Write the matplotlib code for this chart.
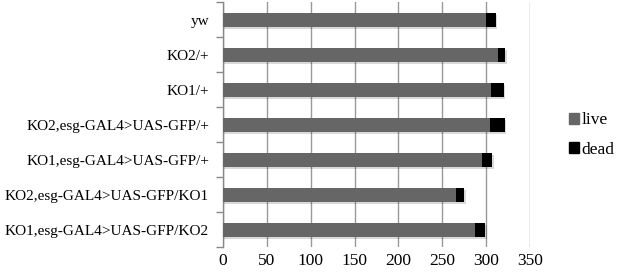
import matplotlib
import matplotlib.pyplot as plt
import matplotlib.patheffects as path_effects
from matplotlib.patches import Patch
import numpy as np

matplotlib.use("Agg")

# data, top to bottom as shown
genotypes = [
    "yw",
    "KO2/+",
    "KO1/+",
    "KO2,esg-GAL4>UAS-GFP/+",
    "KO1,esg-GAL4>UAS-GFP/+",
    "KO2,esg-GAL4>UAS-GFP/KO1",
    "KO1,esg-GAL4>UAS-GFP/KO2",
]
live = [300, 313, 306, 304, 295, 266, 287]
dead = [11, 9, 14, 17, 12, 9, 12]
x_ticks = [0, 50, 100, 150, 200, 250, 300, 350]

plt.rcParams["font.family"] = ["Liberation Serif", "DejaVu Serif"]

fig = plt.figure(figsize=(6.17, 2.72), dpi=100)
ax = fig.add_axes([223 / 617, 25 / 272, 307 / 617, 245 / 272])

y = np.arange(len(genotypes))
shadow = [path_effects.SimplePatchShadow(offset=(1, -1.5), alpha=0.15, shadow_rgbFace="black"),
          path_effects.Normal()]
b1 = ax.barh(y, live, height=0.4, color="#666666", zorder=3)
b2 = ax.barh(y, dead, left=live, height=0.4, color="black", zorder=3)
for bars in (b1, b2):
    for p in bars:
        p.set_path_effects(shadow)

ax.set_ylim(len(genotypes) - 0.5, -0.5)
ax.set_yticks(y)
ax.set_yticklabels(genotypes, fontsize=11)
ax.set_yticks(np.arange(len(genotypes) + 1) - 0.5, minor=True)
ax.tick_params(axis="y", which="major", length=0, pad=10)
ax.tick_params(axis="y", which="minor", length=5, width=1, color="#888888")

ax.set_xlim(0, 350)
ax.set_xticks(x_ticks)
ax.tick_params(axis="x", length=0, labelsize=12.5, pad=4)
ax.grid(axis="x", color="#999999", linewidth=1, zorder=0)

for s in ("top", "right", "bottom"):
    ax.spines[s].set_visible(False)
ax.spines["left"].set_color("#888888")
ax.spines["left"].set_linewidth(1)

handles = [Patch(color="#666666", label="live"), Patch(color="black", label="dead")]
fig.legend(handles=handles, loc="center left", bbox_to_anchor=(569 / 617, 1 - 135 / 272),
           frameon=False, fontsize=12.5, handlelength=0.55, handleheight=0.55,
           handletextpad=0.15, labelspacing=0.75, borderpad=0, borderaxespad=0)

fig.savefig("out.png", dpi=100)
